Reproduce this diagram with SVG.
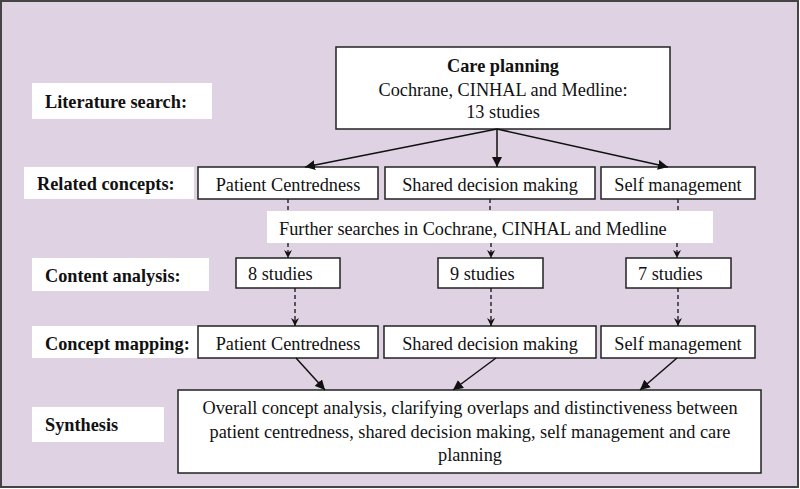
<svg xmlns="http://www.w3.org/2000/svg" width="800" height="489" viewBox="0 0 800 489">
<defs>
<marker id="ah" viewBox="0 0 10 10" refX="10" refY="5" markerWidth="10" markerHeight="10" markerUnits="userSpaceOnUse" orient="auto">
<path d="M0,0 L10,5 L0,10 Z" fill="#111"/>
</marker>
<marker id="ahs" viewBox="0 0 10 10" refX="10" refY="5" markerWidth="8" markerHeight="8" markerUnits="userSpaceOnUse" orient="auto">
<path d="M0,0 L10,5 L0,10 L3,5 Z" fill="#111"/>
</marker>
</defs>
<style>
.box{fill:#fff;stroke:#222;stroke-width:1.5}
.lab{fill:#fff;stroke:none}
text{font-family:"Liberation Serif","Times New Roman",serif;font-size:18.3px;fill:#111}
.b{font-weight:bold}
.c{text-anchor:middle}
.ln{stroke:#111;stroke-width:1.5;fill:none}
.dash{stroke:#111;stroke-width:1.3;fill:none;stroke-dasharray:4 3}
</style>
<rect x="1" y="1" width="797" height="486" fill="#dfd3e3" stroke="#444" stroke-width="2"/>

<g id="label-literature">
<rect class="lab" x="32" y="83" width="180" height="36"/>
<text class="b" x="45" y="108">Literature search:</text>
</g>
<g id="label-related">
<rect class="lab" x="24" y="167" width="170" height="32"/>
<text class="b" x="37" y="190">Related concepts:</text>
</g>
<g id="label-content">
<rect class="lab" x="32" y="258" width="177" height="33"/>
<text class="b" x="45" y="282">Content analysis:</text>
</g>
<g id="label-mapping">
<rect class="lab" x="32" y="326" width="166" height="32"/>
<text class="b" x="45" y="350">Concept mapping:</text>
</g>
<g id="label-synthesis">
<rect class="lab" x="32" y="407" width="132" height="35"/>
<text class="b" x="45" y="431">Synthesis</text>
</g>

<g id="care-planning">
<rect class="box" x="336" y="47" width="334" height="82"/>
<text class="b c" x="503" y="72">Care planning</text>
<text class="c" x="503" y="96">Cochrane, CINHAL and Medline:</text>
<text class="c" x="503" y="118">13 studies</text>
</g>

<g id="rc-patient">
<rect class="box" x="198" y="167" width="180" height="32"/>
<text class="c" x="288" y="191">Patient Centredness</text>
</g>
<g id="rc-shared">
<rect class="box" x="385" y="167" width="210" height="32"/>
<text class="c" x="490" y="191">Shared decision making</text>
</g>
<g id="rc-self">
<rect class="box" x="601" y="167" width="154" height="32"/>
<text class="c" x="678" y="191">Self management</text>
</g>

<g id="further-searches">
<rect class="lab" x="267" y="211" width="446" height="32"/>
<text x="279" y="235">Further searches in Cochrane, CINHAL and Medline</text>
</g>

<g id="ca-8">
<rect class="box" x="236" y="258" width="104" height="30"/>
<text x="248" y="280">8 studies</text>
</g>
<g id="ca-9">
<rect class="box" x="438" y="258" width="105" height="30"/>
<text x="450" y="280">9 studies</text>
</g>
<g id="ca-7">
<rect class="box" x="626" y="258" width="105" height="30"/>
<text x="638" y="280">7 studies</text>
</g>

<g id="cm-patient">
<rect class="box" x="198" y="326" width="180" height="32"/>
<text class="c" x="288" y="350">Patient Centredness</text>
</g>
<g id="cm-shared">
<rect class="box" x="384" y="326" width="212" height="32"/>
<text class="c" x="490" y="350">Shared decision making</text>
</g>
<g id="cm-self">
<rect class="box" x="601" y="326" width="154" height="32"/>
<text class="c" x="678" y="350">Self management</text>
</g>

<g id="synthesis">
<rect class="box" x="178" y="390" width="583" height="83"/>
<text class="c" x="470" y="414">Overall concept analysis, clarifying overlaps and distinctiveness between</text>
<text class="c" x="470" y="438">patient centredness, shared decision making, self management and care</text>
<text class="c" x="470" y="461">planning</text>
</g>

<g id="connectors">
<line class="ln" x1="497" y1="129" x2="305" y2="167" marker-end="url(#ah)"/>
<line class="ln" x1="497" y1="129" x2="497" y2="167" marker-end="url(#ah)"/>
<line class="ln" x1="497" y1="129" x2="668" y2="167" marker-end="url(#ah)"/>

<line class="dash" x1="288" y1="199" x2="288" y2="211"/>
<line class="dash" x1="490" y1="199" x2="490" y2="211"/>
<line class="dash" x1="678" y1="199" x2="678" y2="211"/>
<line class="dash" x1="288" y1="243" x2="288" y2="258" marker-end="url(#ahs)"/>
<line class="dash" x1="491" y1="243" x2="491" y2="258" marker-end="url(#ahs)"/>
<line class="dash" x1="677" y1="243" x2="677" y2="258" marker-end="url(#ahs)"/>

<line class="dash" x1="295" y1="288" x2="295" y2="326" marker-end="url(#ahs)"/>
<line class="dash" x1="491" y1="288" x2="491" y2="326" marker-end="url(#ahs)"/>
<line class="dash" x1="678" y1="288" x2="678" y2="326" marker-end="url(#ahs)"/>

<line class="ln" x1="296" y1="358" x2="325" y2="390" marker-end="url(#ah)"/>
<line class="ln" x1="496" y1="358" x2="453" y2="390" marker-end="url(#ah)"/>
<line class="ln" x1="677" y1="358" x2="640" y2="390" marker-end="url(#ah)"/>
</g>
</svg>
